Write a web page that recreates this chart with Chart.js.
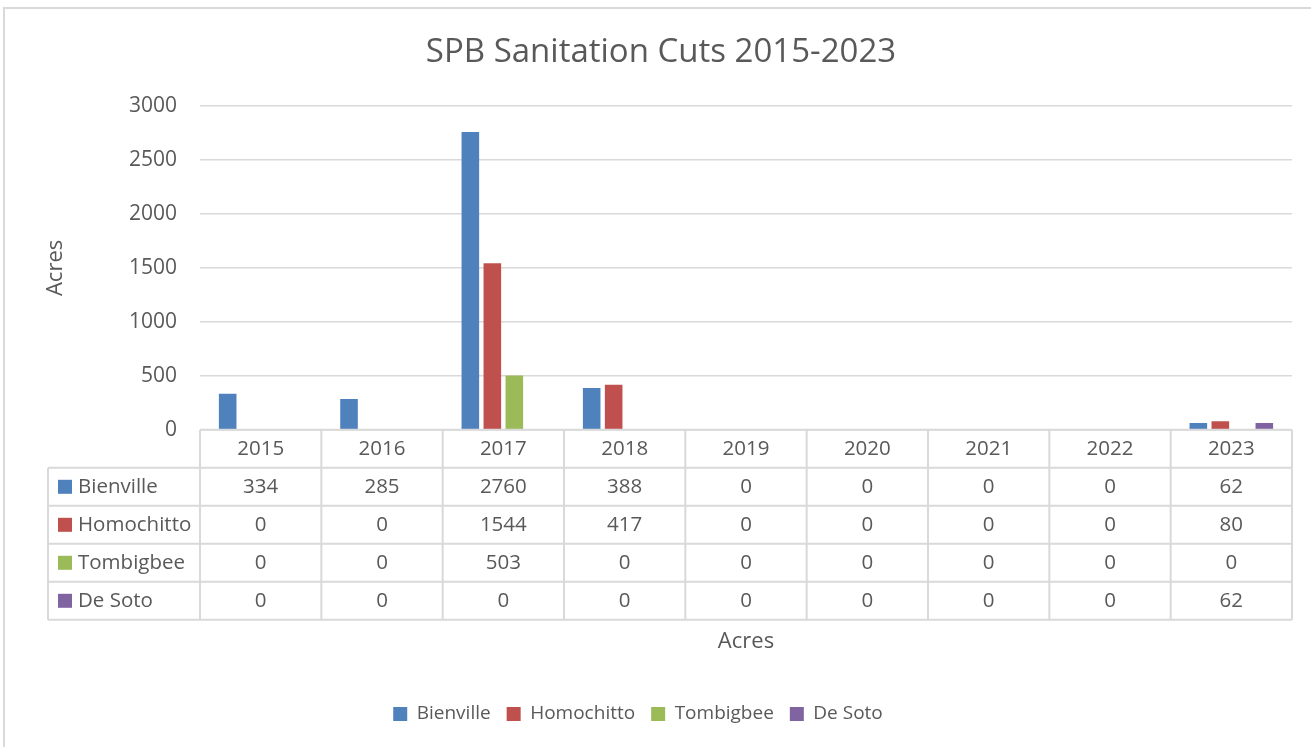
<!DOCTYPE html>
<html>
<head>
<meta charset="utf-8">
<script src="https://cdn.jsdelivr.net/npm/chart.js@4/dist/chart.umd.min.js"></script>
<style>
  html, body { margin: 0; padding: 0; background: #ffffff; }
  #wrap { width: 1311px; height: 747px; position: relative; }
  canvas { display: block; }
</style>
</head>
<body>
<div id="wrap"><canvas id="chart" width="1311" height="747"></canvas></div>
<script>
// Sanitation cut acreage by district and year
const years = ['2015', '2016', '2017', '2018', '2019', '2020', '2021', '2022', '2023'];
const bienville  = [334, 285, 2760, 388, 0, 0, 0, 0, 62];
const homochitto = [0, 0, 1544, 417, 0, 0, 0, 0, 80];
const tombigbee  = [0, 0, 503, 0, 0, 0, 0, 0, 0];
const deSoto     = [0, 0, 0, 0, 0, 0, 0, 0, 62];
const seriesNames  = ['Bienville', 'Homochitto', 'Tombigbee', 'De Soto'];
const seriesValues = [bienville, homochitto, tombigbee, deSoto];
const seriesColors = ['#4F81BD', '#C0504D', '#9BBB59', '#8064A2'];
const chartTitle = 'SPB Sanitation Cuts 2015-2023';
const axisTitle = 'Acres';

const FONT = '"Open Sans", "DejaVu Sans", sans-serif';
const TEXT = '#595959';
const LINE = '#D9D9D9';
const ROW_H = 38;
const TABLE_LEFT = 48;
const LEGEND_SHIFT = -8;

// Frame, heading and the data table beneath the plot
const sheetPlugin = {
  id: 'sheet',
  afterLayout(chart) {
    // nudge the legend row slightly left of the full-width centre
    const lg = chart.legend;
    if (lg) {
      lg.left += LEGEND_SHIFT;
      lg.right += LEGEND_SHIFT;
    }
  },
  beforeDraw(chart) {
    const ctx = chart.ctx;
    ctx.save();
    ctx.fillStyle = '#ffffff';
    ctx.fillRect(0, 0, chart.width, chart.height);
    ctx.strokeStyle = LINE;
    ctx.lineWidth = 2;
    ctx.beginPath();
    ctx.moveTo(4, chart.height);
    ctx.lineTo(4, 8);
    ctx.lineTo(chart.width, 8);
    ctx.stroke();
    ctx.restore();
  },
  afterDraw(chart) {
    const ctx = chart.ctx;
    const ca = chart.chartArea;
    const xs = chart.scales.x;
    const n = years.length;
    const colW = (ca.right - ca.left) / n;
    const top = ca.bottom;
    const bottom = top + ROW_H * (seriesNames.length + 1);

    ctx.save();
    // heading
    ctx.fillStyle = TEXT;
    ctx.font = '33px ' + FONT;
    ctx.textAlign = 'center';
    ctx.textBaseline = 'middle';
    ctx.fillText(chartTitle, 661, 53);

    // table grid
    ctx.strokeStyle = LINE;
    ctx.lineWidth = 2;
    ctx.beginPath();
    ctx.moveTo(ca.left, top);
    ctx.lineTo(ca.right, top);
    for (let r = 1; r <= seriesNames.length + 1; r++) {
      ctx.moveTo(TABLE_LEFT, top + r * ROW_H);
      ctx.lineTo(ca.right, top + r * ROW_H);
    }
    for (let i = 0; i < n; i++) {
      const cx = xs.getPixelForValue(i) - colW / 2;
      ctx.moveTo(cx, top);
      ctx.lineTo(cx, bottom);
    }
    ctx.moveTo(xs.getPixelForValue(n - 1) + colW / 2, top);
    ctx.lineTo(xs.getPixelForValue(n - 1) + colW / 2, bottom);
    ctx.moveTo(TABLE_LEFT, top + ROW_H);
    ctx.lineTo(TABLE_LEFT, bottom);
    ctx.stroke();

    // header row and values
    ctx.font = '20.5px ' + FONT;
    ctx.fillStyle = TEXT;
    ctx.textAlign = 'center';
    years.forEach((y, i) => {
      ctx.fillText(y, xs.getPixelForValue(i), top + ROW_H / 2);
    });
    seriesValues.forEach((vals, r) => {
      const cy = top + ROW_H * (r + 1) + ROW_H / 2;
      vals.forEach((v, i) => {
        ctx.fillText(String(v), xs.getPixelForValue(i), cy);
      });
    });

    // row labels with colour keys
    ctx.textAlign = 'left';
    seriesNames.forEach((name, r) => {
      const cy = top + ROW_H * (r + 1) + ROW_H / 2;
      ctx.fillStyle = seriesColors[r];
      ctx.fillRect(58, cy - 7, 14, 14);
      ctx.fillStyle = TEXT;
      ctx.fillText(name, 78, cy);
    });
    ctx.restore();
  }
};

const datasets = seriesNames.map((name, i) => ({
  label: name,
  data: seriesValues[i],
  backgroundColor: seriesColors[i],
  borderWidth: 0,
  categoryPercentage: 0.725,
  barPercentage: 0.8
}));

new Chart(document.getElementById('chart'), {
  type: 'bar',
  data: { labels: years, datasets },
  plugins: [sheetPlugin],
  options: {
    responsive: false,
    animation: false,
    devicePixelRatio: 1,
    layout: { padding: { top: 106, left: 0, right: 19, bottom: 13.6 } },
    plugins: {
      tooltip: { enabled: false },
      title: { display: false },
      legend: {
        position: 'bottom',
        labels: {
          boxWidth: 14,
          boxHeight: 14,
          padding: 16,
          color: TEXT,
          font: { family: FONT, size: 19 }
        }
      }
    },
    scales: {
      x: {
        grid: { display: false },
        border: { display: false },
        ticks: { display: false },
        title: {
          display: true,
          text: axisTitle,
          color: TEXT,
          font: { family: FONT, size: 22 },
          padding: { top: 0, bottom: 33 }
        },
        afterFit(scale) { scale.height = 258.6; }
      },
      y: {
        min: 0,
        max: 3000,
        ticks: {
          stepSize: 500,
          padding: 23,
          color: TEXT,
          font: { family: FONT, size: 21 },
          callback: (v) => String(v)
        },
        grid: { color: LINE, lineWidth: 1.5, drawTicks: false },
        border: { display: false },
        title: {
          display: true,
          text: axisTitle,
          color: TEXT,
          font: { family: FONT, size: 22 },
          padding: { top: 43, bottom: 0 }
        },
        afterFit(scale) { scale.width = 200; }
      }
    }
  }
});
</script>
</body>
</html>
